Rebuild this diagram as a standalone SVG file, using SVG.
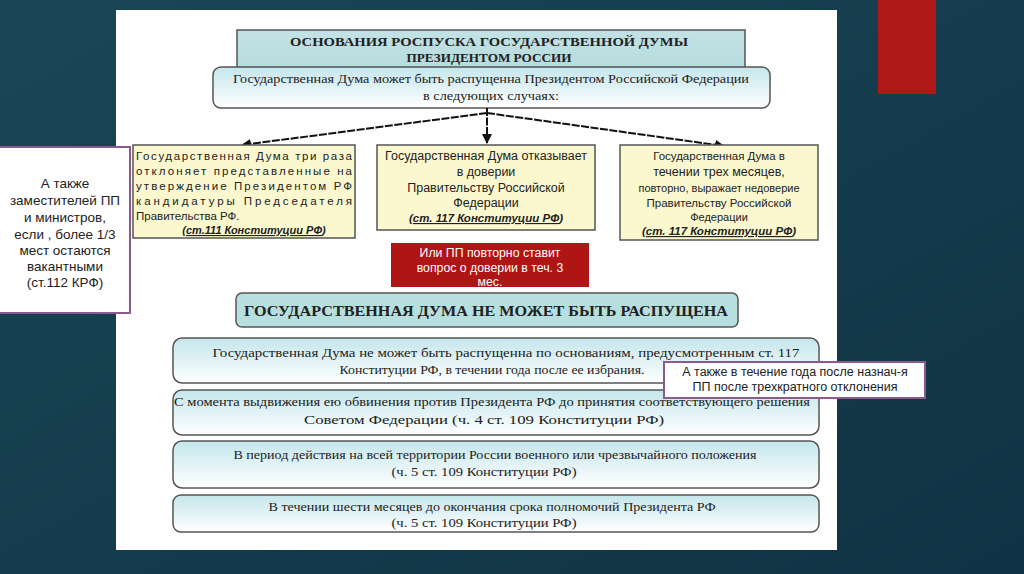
<svg xmlns="http://www.w3.org/2000/svg" width="1024" height="574" viewBox="0 0 1024 574">
<defs>
<linearGradient id="bg" x1="0" y1="0" x2="1" y2="1"><stop offset="0" stop-color="#1a4655"/><stop offset="1" stop-color="#0f3344"/></linearGradient>
<linearGradient id="blue" x1="0" y1="0" x2="0" y2="1"><stop offset="0" stop-color="#c4e6ec"/><stop offset="1" stop-color="#ffffff"/></linearGradient>
<linearGradient id="head" x1="0" y1="0" x2="0" y2="1"><stop offset="0" stop-color="#c3e2e6"/><stop offset="1" stop-color="#b6dcdd"/></linearGradient>
<marker id="ah" viewBox="0 0 10 10" refX="9" refY="5" markerWidth="5" markerHeight="5" orient="auto"><path d="M0,0 L10,5 L0,10 Z" fill="#111"/></marker>
</defs>
<style>
.serif{font-family:"Liberation Serif","Times New Roman",serif;fill:#222}
.sans{font-family:"Liberation Sans",Arial,sans-serif;fill:#222}
.box{stroke:#555;stroke-width:1.5}
.yel{fill:#fbf8cf;stroke:#555;stroke-width:1.5}
.rnd{fill:url(#blue);stroke:#555;stroke-width:1.5}
.pur{fill:#fff;stroke:#8a5a8e;stroke-width:2}
.conn{stroke:#111;stroke-width:2;fill:none;stroke-dasharray:8 1.5}
</style>
<rect width="1024" height="574" fill="url(#bg)"/>
<rect x="878" y="0" width="58" height="94" fill="#b01818"/>
<rect x="116" y="10" width="721" height="540" fill="#fefefe"/>

<g id="title">
<rect x="237" y="30" width="508" height="40" fill="url(#head)" class="box"/>
<text class="serif" font-size="13.5" font-weight="bold" text-anchor="middle"><tspan x="489" y="46" textLength="398" lengthAdjust="spacingAndGlyphs">ОСНОВАНИЯ РОСПУСКА ГОСУДАРСТВЕННОЙ ДУМЫ</tspan><tspan x="489" y="62" textLength="165" lengthAdjust="spacingAndGlyphs">ПРЕЗИДЕНТОМ РОССИИ</tspan></text>
</g>
<g id="subtitle">
<rect x="213" y="67" width="557" height="41" rx="8" class="rnd"/>
<text class="serif" font-size="13.5" text-anchor="middle"><tspan x="491" y="83" textLength="516" lengthAdjust="spacingAndGlyphs">Государственная Дума может быть распущенна Президентом Российской Федерации</tspan><tspan x="491" y="100" textLength="136" lengthAdjust="spacingAndGlyphs">в следующих случаях:</tspan></text>
</g>

<g id="connectors">
<line x1="487" y1="108" x2="487" y2="143" class="conn" marker-end="url(#ah)"/>
<line x1="487" y1="113" x2="242" y2="145" class="conn" marker-end="url(#ah)"/>
<line x1="487" y1="113" x2="724" y2="146" class="conn" marker-end="url(#ah)"/>
</g>

<g id="case1">
<rect x="133" y="145" width="222" height="93" class="yel"/>
<text class="sans" font-size="11.5"><tspan x="136" y="160" textLength="216" lengthAdjust="spacing">Государственная Дума три раза</tspan><tspan x="136" y="175" textLength="216" lengthAdjust="spacing">отклоняет представленные на</tspan><tspan x="136" y="190" textLength="216" lengthAdjust="spacing">утверждение Президентом РФ</tspan><tspan x="136" y="205" textLength="216" lengthAdjust="spacing">кандидатуры Председателя</tspan><tspan x="136" y="220">Правительства РФ.</tspan></text>
<text class="sans" font-size="11" font-weight="bold" font-style="italic" text-anchor="middle" x="254" y="234">(<tspan text-decoration="underline">ст.111 Конституции РФ</tspan>)</text>
</g>

<g id="case2">
<rect x="377" y="145" width="218" height="85" class="yel"/>
<text class="sans" font-size="12.5" text-anchor="middle"><tspan x="486" y="160">Государственная Дума отказывает</tspan><tspan x="486" y="176">в доверии</tspan><tspan x="486" y="192">Правительству Российской</tspan><tspan x="486" y="207">Федерации</tspan></text>
<text class="sans" font-size="11.5" font-weight="bold" font-style="italic" text-anchor="middle" x="486" y="222">(<tspan text-decoration="underline">ст. 117 Конституции РФ</tspan>)</text>
</g>

<g id="case3">
<rect x="620" y="145" width="198" height="95" class="yel"/>
<text class="sans" text-anchor="middle"><tspan x="719" y="160" font-size="11.5">Государственная Дума в</tspan><tspan x="719" y="176" font-size="12.5">течении трех месяцев,</tspan><tspan x="719" y="192" font-size="11">повторно, выражает недоверие</tspan><tspan x="719" y="207" font-size="11.5">Правительству Российской</tspan><tspan x="719" y="221" font-size="11">Федерации</tspan></text>
<text class="sans" font-size="11.5" font-weight="bold" font-style="italic" text-anchor="middle" x="719" y="235">(<tspan text-decoration="underline">ст. 117 Конституции РФ</tspan>)</text>
</g>

<g id="note-left">
<rect x="-2" y="147" width="132" height="166" class="pur"/>
<text class="sans" font-size="13.5" text-anchor="middle"><tspan x="65" y="188">А также</tspan><tspan x="65" y="205">заместителей ПП</tspan><tspan x="65" y="222">и министров,</tspan><tspan x="65" y="239">если , более 1/3</tspan><tspan x="65" y="255">мест остаются</tspan><tspan x="65" y="271">вакантными</tspan><tspan x="65" y="287">(ст.112 КРФ)</tspan></text>
</g>

<g id="note-red">
<rect x="391" y="243" width="198" height="44" fill="#b01515"/>
<text class="sans" font-size="12.3" text-anchor="middle" style="fill:#fff"><tspan x="490" y="257">Или ПП повторно ставит</tspan><tspan x="490" y="272">вопрос о доверии в теч. 3</tspan><tspan x="490" y="286">мес.</tspan></text>
</g>

<g id="heading2">
<rect x="236" y="293" width="502" height="34" rx="6" fill="#b8dfdf" class="box"/>
<text class="serif" font-size="15.5" font-weight="bold" text-anchor="middle" x="486" y="316" textLength="484" lengthAdjust="spacingAndGlyphs">ГОСУДАРСТВЕННАЯ ДУМА НЕ МОЖЕТ БЫТЬ РАСПУЩЕНА</text>
</g>

<g id="ban1">
<rect x="173" y="338" width="646" height="45" rx="9" class="rnd"/>
<text class="serif" font-size="13.5" text-anchor="middle"><tspan x="506" y="357" textLength="587" lengthAdjust="spacingAndGlyphs">Государственная Дума не может быть распущенна по основаниям, предусмотренным ст. 117</tspan><tspan x="492" y="374" textLength="305" lengthAdjust="spacingAndGlyphs">Конституции РФ, в течении года после ее избрания.</tspan></text>
</g>
<g id="ban2">
<rect x="173" y="390" width="646" height="45" rx="9" class="rnd"/>
<text class="serif" font-size="13.5" text-anchor="middle"><tspan x="492" y="406" textLength="636" lengthAdjust="spacingAndGlyphs">С момента выдвижения ею обвинения против Президента РФ до принятия соответствующего решения</tspan><tspan x="484" y="424" textLength="360" lengthAdjust="spacingAndGlyphs">Советом Федерации  (ч. 4 ст. 109 Конституции РФ)</tspan></text>
</g>
<g id="ban3">
<rect x="173" y="441" width="646" height="47" rx="9" class="rnd"/>
<text class="serif" font-size="13.5" text-anchor="middle"><tspan x="495" y="459" textLength="523" lengthAdjust="spacingAndGlyphs">В период действия на всей территории России военного или чрезвычайного положения</tspan><tspan x="484" y="476" textLength="185" lengthAdjust="spacingAndGlyphs">(ч. 5 ст. 109 Конституции РФ)</tspan></text>
</g>
<g id="ban4">
<rect x="173" y="495" width="646" height="37" rx="8" class="rnd"/>
<text class="serif" font-size="13.5" text-anchor="middle"><tspan x="492" y="511" textLength="447" lengthAdjust="spacingAndGlyphs">В течении шести месяцев до окончания срока полномочий Президента РФ</tspan><tspan x="484" y="527" textLength="185" lengthAdjust="spacingAndGlyphs">(ч. 5 ст. 109 Конституции РФ)</tspan></text>
</g>

<g id="note-right">
<rect x="664" y="362" width="261" height="36" class="pur"/>
<text class="sans" font-size="12.5" text-anchor="middle"><tspan x="795" y="376">А также в течение года  после назнач-я</tspan><tspan x="795" y="391">ПП после трехкратного отклонения</tspan></text>
</g>
</svg>
